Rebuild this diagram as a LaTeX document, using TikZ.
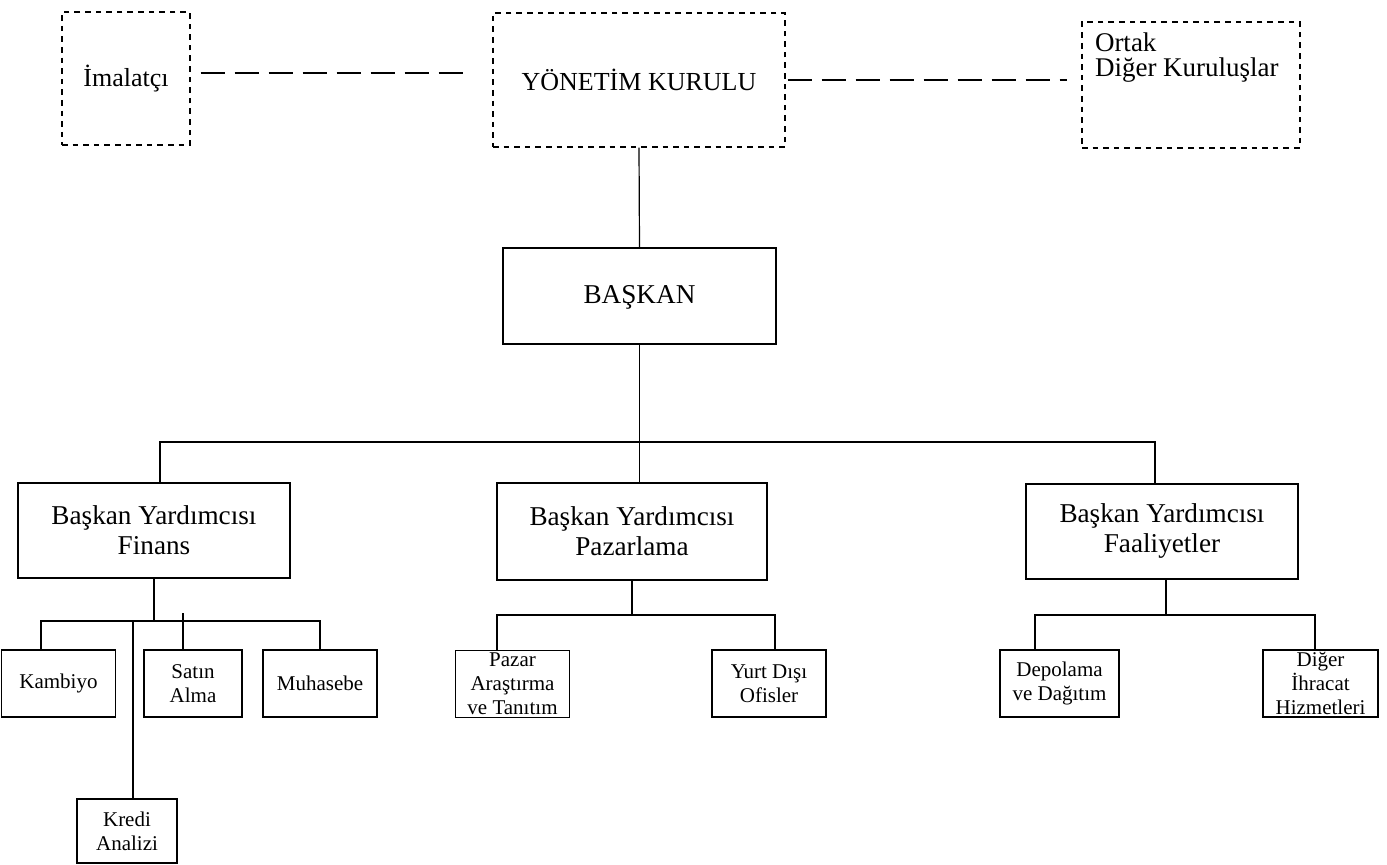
\documentclass[tikz,border=0pt]{standalone}
\usepackage{fontspec}
\setmainfont{Liberation Serif}

\begin{document}
\begin{tikzpicture}[x=0.5pt, y=-0.5pt, line width=0.6pt,
    dotbox/.style={draw, dash pattern=on 2.8pt off 2.5pt, font=\fontsize{13}{15}\selectfont, align=center},
    unitbox/.style={draw, font=\fontsize{13.6}{15}\selectfont, align=center},
    subunit/.style={draw, font=\fontsize{10.5}{12}\selectfont, align=center, inner sep=0pt, minimum height=33.5pt},
    dashlink/.style={dash pattern=on 12pt off 5pt}]
            \useasboundingbox (0,0) rectangle (1387,865);

            \node[dotbox, minimum width=64pt, minimum height=66.5pt] (imal) at (126,78.5) {İmalatçı};
            \node[dotbox, minimum width=146pt, minimum height=67pt] (yk) at (639,80) {YÖNETİM KURULU};
            \node[dotbox, minimum width=109pt, minimum height=63pt, inner xsep=6.5pt, inner ysep=5.5pt] (ortak) at (1191,85)
                {\parbox[t][52pt][t]{96pt}{\raggedright\fontsize{13.5}{12.5}\selectfont Ortak\\Diğer Kuruluşlar}};

            \node[unitbox, minimum width=136.5pt, minimum height=48pt, text depth=1pt] (baskan) at (639.5,296) {BAŞKAN};

            \node[unitbox, minimum width=136pt, minimum height=47.5pt] (finans) at (154,530.5) {Başkan Yardımcısı\\Finans};
            \node[unitbox, minimum width=135pt, minimum height=48.5pt] (pazar) at (632,531.5) {Başkan Yardımcısı\\Pazarlama};
            \node[unitbox, minimum width=136pt, minimum height=47.5pt] (faal) at (1162,531.5) {Başkan Yardımcısı\\Faaliyetler};

            \node[subunit, minimum width=57pt] (kambiyo) at (58.5,683.5) {Kambiyo};
            \node[subunit, minimum width=49pt] (satin) at (193,683.5) {Satın\\Alma};
            \node[subunit, minimum width=57pt] (muhasebe) at (320,683.5) {Muhasebe};
            \node[subunit, minimum width=50pt, minimum height=32pt] (kredi) at (127,831) {Kredi\\Analizi};
            \node[subunit, minimum width=57pt] (arastirma) at (512.5,684) {Pazar\\Araştırma\\ve Tanıtım};
            \node[subunit, minimum width=57pt] (yurtdisi) at (769,683.5) {Yurt Dışı\\Ofisler};
            \node[subunit, minimum width=59.5pt] (depolama) at (1059.5,683.5) {Depolama\\ve Dağıtım};
            \node[subunit, minimum width=57.5pt] (diger) at (1320.5,683.5) {Diğer\\İhracat\\Hizmetleri};

            \draw[dashlink, shorten <=5pt, shorten >=12pt] ([yshift=2.75pt]imal.east) -- ([yshift=2.75pt]imal.east -| yk.west);
            \draw[dashlink, shorten <=1pt, shorten >=7pt] (yk.east) -- (yk.east -| ortak.west);
            \draw (yk.south) -- (baskan.north);

            \coordinate (bar) at (639,442);
            \draw (baskan.south) -- (baskan.south |- pazar.north);
            \draw ([xshift=3pt]finans.north) -- ([xshift=3pt]finans.north |- bar) -- ([xshift=-3.5pt]faal.north |- bar) -- ([xshift=-3.5pt]faal.north);

            \coordinate (fbar) at (154,621);
            \draw (finans.south) -- (fbar);
            \draw ([xshift=-8.75pt]kambiyo.north) -- ([xshift=-8.75pt]kambiyo.north |- fbar) -- (muhasebe.north |- fbar) -- (muhasebe.north);
            \draw ([xshift=-5pt]satin.north) -- ([xshift=-5pt,yshift=4pt]satin.north |- fbar);
            \draw ([xshift=3pt]kredi.north) -- ([xshift=3pt]kredi.north |- fbar);

            \coordinate (pbar) at (632,615);
            \draw (pazar.south) -- (pbar);
            \draw ([xshift=-7.75pt]arastirma.north) -- ([xshift=-7.75pt]arastirma.north |- pbar) -- ([xshift=3pt]yurtdisi.north |- pbar) -- ([xshift=3pt]yurtdisi.north);

            \coordinate (abar) at (1166,615);
            \draw ([xshift=2pt]faal.south) -- (abar);
            \draw ([xshift=-12.25pt]depolama.north) -- ([xshift=-12.25pt]depolama.north |- abar) -- ([xshift=-2.75pt]diger.north |- abar) -- ([xshift=-2.75pt]diger.north);

        \end{tikzpicture}
\end{document}
